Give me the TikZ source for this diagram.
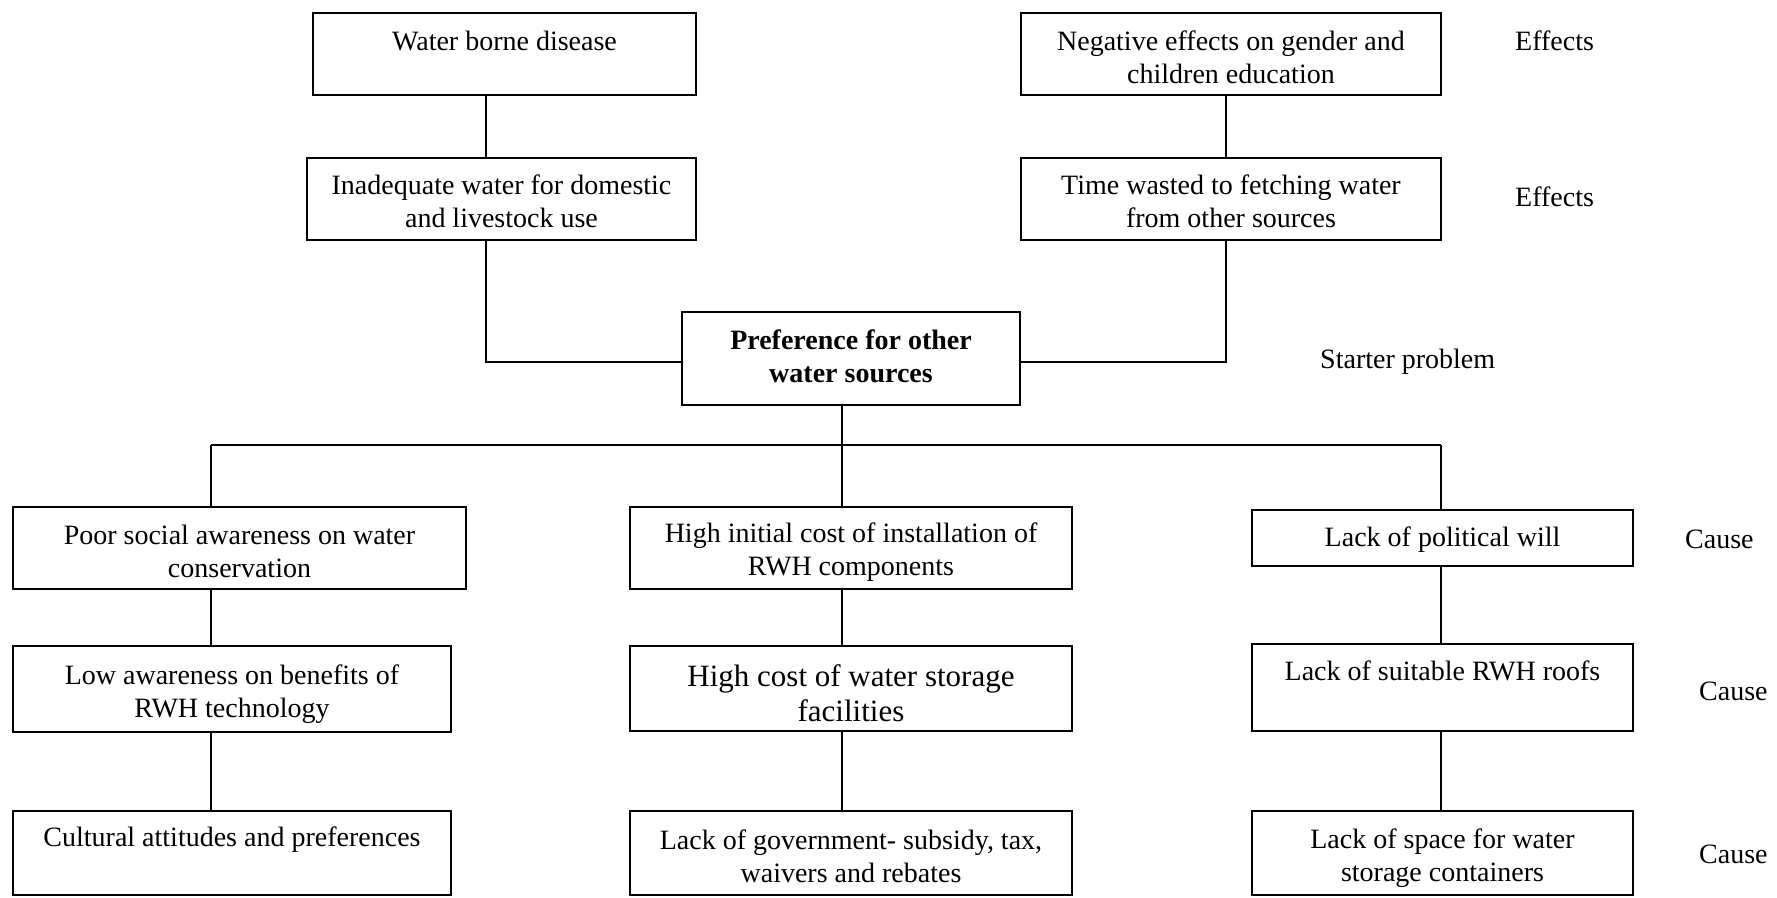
\documentclass[tikz,border=0pt]{standalone}
\usepackage{fontspec}
\setmainfont{Liberation Serif}
\tikzset{
  box/.style={draw, line width=2pt, rectangle, inner sep=0pt},
  txt/.style={align=center, inner sep=0pt, font=\fontsize{28}{33}\selectfont},
  bigtxt/.style={align=center, inner sep=0pt, font=\fontsize{31}{35}\selectfont},
  lbl/.style={anchor=west, inner sep=0pt, font=\fontsize{28}{33}\selectfont},
  conn/.style={line width=1.4pt},
}
\begin{document}
\begin{tikzpicture}[x=1pt,y=-1pt]
\useasboundingbox (0,0) rectangle (1777,897);
% boxes
\node[box, minimum width=383, minimum height=82] (wb) at (504.5,54) {};
\node[box, minimum width=420, minimum height=82] (neg) at (1231,54) {};
\node[box, minimum width=389, minimum height=82] (inad) at (501.5,199) {};
\node[box, minimum width=420, minimum height=82] (time) at (1231,199) {};
\node[box, minimum width=338, minimum height=93] (pref) at (851,358.5) {};
\node[box, minimum width=453, minimum height=82] (poor) at (239.5,548) {};
\node[box, minimum width=442, minimum height=82] (hinit) at (851,548) {};
\node[box, minimum width=381, minimum height=56] (pol) at (1442.5,538) {};
\node[box, minimum width=438, minimum height=86] (low) at (232,689) {};
\node[box, minimum width=442, minimum height=85] (hcost) at (851,688.5) {};
\node[box, minimum width=381, minimum height=87] (suit) at (1442.5,687.5) {};
\node[box, minimum width=438, minimum height=84] (cult) at (232,853) {};
\node[box, minimum width=442, minimum height=84] (govt) at (851,853) {};
\node[box, minimum width=381, minimum height=84] (space) at (1442.5,853) {};
% texts
\node[txt] (wbt) at (504.5,41) {Water borne disease};
\node[txt] (negt) at (1231,57) {Negative effects on gender and\\children education};
\node[txt] (inadt) at (501.5,201) {Inadequate water for domestic\\and livestock use};
\node[txt] (timet) at (1231,201) {Time wasted to fetching water\\from other sources};
\node[txt, font=\fontsize{28}{33}\selectfont\bfseries] (preft) at (851,356) {Preference for other\\water sources};
\node[txt] (poort) at (239.5,551) {Poor social awareness on water\\conservation};
\node[txt] (hinitt) at (851,552) {High initial cost of installation of\\RWH components};
\node[txt] (polt) at (1442.5,540) {Lack of political will};
\node[txt] (lowt) at (232,694) {Low awareness on benefits of\\RWH technology};
\node[bigtxt] (hcostt) at (851,693) {High cost of water storage\\facilities};
\node[txt] (suitt) at (1442.5,671) {Lack of suitable RWH roofs};
\node[txt] (cultt) at (232,840) {Cultural attitudes and preferences};
\node[txt] (govtt) at (851,856) {Lack of government- subsidy, tax,\\waivers and rebates};
\node[txt] (spacet) at (1442.5,858) {Lack of space for water\\storage containers};
% side labels
\node[lbl] (e1) at (1515,41) {Effects};
\node[lbl] (e2) at (1515,197) {Effects};
\node[lbl] (sp) at (1320,362) {Starter problem};
\node[lbl] (c1) at (1685,539) {Cause};
\node[lbl] (c2) at (1699,691) {Cause};
\node[lbl] (c3) at (1699,854) {Cause};
% connector guides
\coordinate (xl) at (486,0);
\coordinate (xr) at (1226,0);
\coordinate (yc) at (0,362);
\coordinate (xa) at (211,0);
\coordinate (xb) at (842,0);
\coordinate (xc) at (1441,0);
\coordinate (yb) at (0,445);
% effects connectors
\draw[conn] (xl |- wb.south) -- (xl |- inad.north);
\draw[conn] (xl |- inad.south) -- (xl |- yc) -- (pref.west |- yc);
\draw[conn] (xr |- neg.south) -- (xr |- time.north);
\draw[conn] (xr |- time.south) -- (xr |- yc) -- (pref.east |- yc);
% bus
\draw[conn] (xb |- pref.south) -- (xb |- yb);
\draw[conn] (xa |- yb) -- (xc |- yb);
\draw[conn] (xa |- yb) -- (xa |- poor.north);
\draw[conn] (xb |- yb) -- (xb |- hinit.north);
\draw[conn] (xc |- yb) -- (xc |- pol.north);
% cause chains
\draw[conn] (xa |- poor.south) -- (xa |- low.north);
\draw[conn] (xa |- low.south) -- (xa |- cult.north);
\draw[conn] (xb |- hinit.south) -- (xb |- hcost.north);
\draw[conn] (xb |- hcost.south) -- (xb |- govt.north);
\draw[conn] (xc |- pol.south) -- (xc |- suit.north);
\draw[conn] (xc |- suit.south) -- (xc |- space.north);
\end{tikzpicture}
\end{document}
